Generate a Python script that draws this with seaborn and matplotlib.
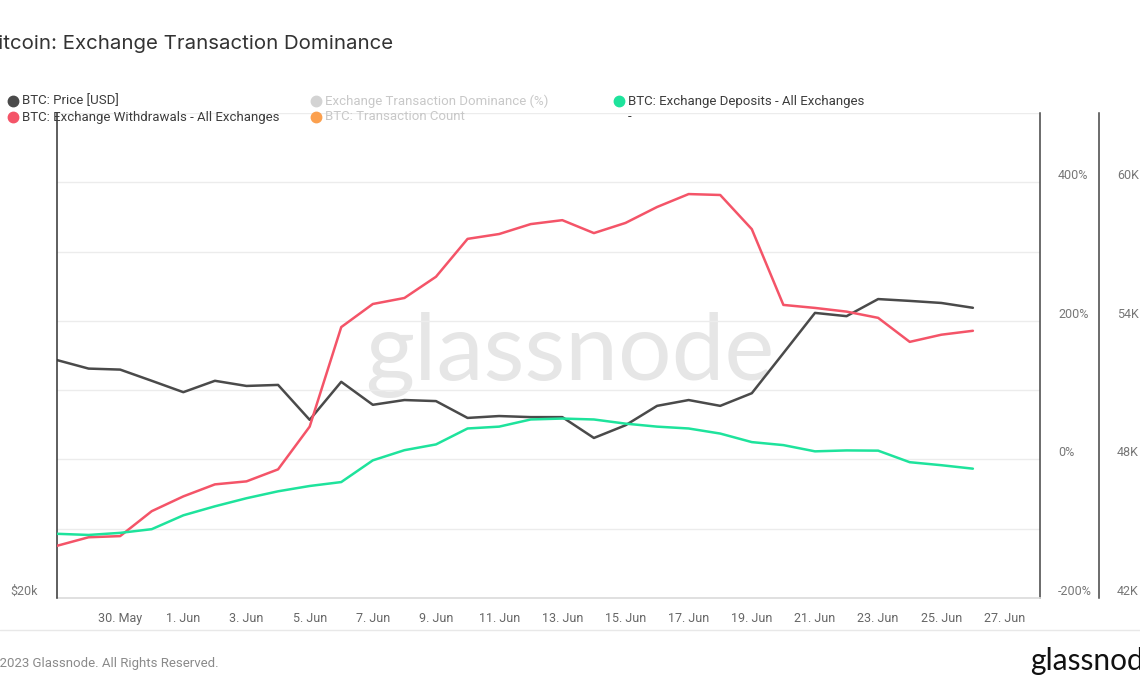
import numpy as np
import pandas as pd
import matplotlib
matplotlib.use("Agg")
import matplotlib.pyplot as plt
import matplotlib.dates as mdates
from matplotlib.ticker import FixedLocator, FuncFormatter, NullLocator
from matplotlib.lines import Line2D
import seaborn as sns

# ---------------- data ----------------
dates = pd.date_range("2023-05-28", "2023-06-26", freq="D")
price_usd = [28100, 27760, 27720, 27280, 26840, 27280, 27080, 27120, 25800, 27240,
             26360, 26540, 26500, 25870, 25940, 25900, 25900, 25140, 25600, 26320,
             26540, 26320, 26800, 28380, 30060, 29920, 30660, 30580, 30490, 30280]
withdrawals = [44260, 44630, 44680, 45760, 46400, 46920, 47050, 47570, 49420, 53730,
               54730, 54990, 55910, 57550, 57760, 58190, 58360, 57800, 58240, 58930,
               59490, 59450, 57970, 54690, 54560, 54400, 54130, 53090, 53400, 53570]
deposits = [44780, 44730, 44820, 44980, 45580, 45970, 46320, 46620, 46850, 47020,
            47960, 48400, 48650, 49340, 49420, 49730, 49770, 49730, 49550, 49420,
            49340, 49120, 48750, 48620, 48350, 48390, 48380, 47880, 47750, 47600]

title = "Bitcoin: Exchange Transaction Dominance"
legend_items = [
    ("BTC: Price [USD]", "#4a4a4a", True),
    ("Exchange Transaction Dominance (%)", "#d3d3d3", False),
    ("BTC: Exchange Deposits - All Exchanges", "#1ee39c", True),
    ("BTC: Exchange Withdrawals - All Exchanges", "#f45468", True),
    ("BTC: Transaction Count", "#fba04e", False),
]
pct_ticks = [-200, -100, 0, 100, 200, 300, 400, 500]
pct_labeled = [-200, 0, 200, 400]
k_ticks = [42000, 48000, 54000, 60000]

df = pd.DataFrame({"date": dates, "price": price_usd,
                   "withdrawals": withdrawals, "deposits": deposits})

# ---------------- style ----------------
sns.set_theme(style="white")
plt.rcParams["font.family"] = ["Roboto", "DejaVu Sans"]

W, H = 1140, 694
fig = plt.figure(figsize=(W / 100, H / 100), dpi=100)
fig.patch.set_facecolor("white")

left, right, top, bottom = 57, 1040, 113, 598
ax = fig.add_axes([left / W, 1 - bottom / H, (right - left) / W, (bottom - top) / H])

# percent axis (base, carries grid)
ax.set_ylim(-200, 500)
ax.yaxis.set_major_locator(FixedLocator(pct_ticks))
ax.yaxis.set_major_formatter(FuncFormatter(lambda v, p: f"{int(v)}%" if int(v) in pct_labeled else ""))
ax.grid(axis="y", color="#ececec", linewidth=1)
ax.grid(axis="x", visible=False)

# x axis
ax.set_xlim(pd.Timestamp("2023-05-28"), pd.Timestamp("2023-06-28 03:00"))
ax.xaxis.set_major_locator(mdates.DayLocator(bymonthday=[30, 1, 3, 5, 7, 9, 11, 13, 15, 17, 19, 21, 23, 25, 27]))
ax.xaxis.set_major_formatter(mdates.DateFormatter("%-d. %b"))
ax.tick_params(axis="x", length=5, width=0.8, color="#dddddd", labelsize=9,
               labelcolor="#666", pad=5)

# watermark
ax.text(570 / W, 1 - 355 / H, "glassnode", transform=fig.transFigure, ha="center",
        va="center", fontsize=68, color="#e6e6e6", family=["Lato", "DejaVu Sans"], zorder=0)

# price axis (left, log)
axp = ax.twinx()
sns.lineplot(data=df, x="date", y="price", ax=axp, color="#4a4a4a", linewidth=1.8)
axp.set_yscale("log")
axp.set_ylim(20000, 40000)
axp.yaxis.tick_left()
axp.yaxis.set_label_position("left")
axp.yaxis.set_major_locator(FixedLocator([20000]))
axp.yaxis.set_minor_locator(NullLocator())
axp.yaxis.set_major_formatter(FuncFormatter(lambda v, p: f"${int(v/1000)}k"))
axp.tick_params(axis="y", length=0, pad=14, labelsize=9, labelcolor="#777")
for s in ["top", "right", "bottom"]:
    axp.spines[s].set_visible(False)
axp.spines["left"].set_visible(True)
axp.spines["left"].set_color("#333")
axp.spines["left"].set_linewidth(1.1)
axp.set_ylabel("")
axp.set_xlabel("")

# count axis (outer right)
axk = ax.twinx()
sns.lineplot(data=df, x="date", y="withdrawals", ax=axk, color="#f45468", linewidth=1.8)
sns.lineplot(data=df, x="date", y="deposits", ax=axk, color="#1ee39c", linewidth=1.8)
axk.set_ylim(42000, 63000)
axk.spines["right"].set_position(("outward", 59 * 72 / 100))
axk.yaxis.set_major_locator(FixedLocator(k_ticks))
axk.yaxis.set_major_formatter(FuncFormatter(lambda v, p: f"{int(v/1000)}K"))
axk.tick_params(axis="y", length=0, pad=13, labelsize=9, labelcolor="#777")
for s in ["top", "left", "bottom"]:
    axk.spines[s].set_visible(False)
axk.spines["right"].set_color("#444")
axk.spines["right"].set_linewidth(1.1)
axk.set_ylabel("")
axk.set_xlabel("")
axk.set_xlim(ax.get_xlim())

# percent axis labels on the right (after twinx, which resets them)
ax.yaxis.tick_right()
ax.yaxis.set_label_position("right")
ax.tick_params(axis="y", length=0, pad=13, labelsize=9, labelcolor="#777")
ax.set_xlabel("")
for s in ["top", "left"]:
    ax.spines[s].set_visible(False)
ax.spines["bottom"].set_color("#dcdcdc")
ax.spines["right"].set_visible(True)
ax.spines["right"].set_color("#444")
ax.spines["right"].set_linewidth(1.1)

for a in (ax, axp, axk):
    for lbl in a.get_yticklabels():
        lbl.set_va("bottom")

# title
fig.text(-15 / W, 1 - 44 / H, title, fontsize=14.7, color="#333",
         family=["Inter", "DejaVu Sans"], va="center", ha="left")

# legend (manual)
cols = [13, 316, 619]
rows = [101, 117]
positions = [(0, 0), (1, 0), (2, 0), (0, 1), (1, 1)]
for (label, color, active), (c, r) in zip(legend_items, positions):
    x, y = cols[c], rows[r]
    fig.add_artist(Line2D([x / W], [1 - y / H], marker="o", markersize=7.5,
                          color=color, linestyle="none", transform=fig.transFigure))
    fig.text((x + 9) / W, 1 - y / H, label, fontsize=9.5,
             color="#3c3c3c" if active else "#c8c8c8", va="center", ha="left")
fig.text(628 / W, 1 - 117 / H, "-", fontsize=9.5, color="#3c3c3c", va="center", ha="left")

# footer
fig.add_artist(Line2D([0, 1], [1 - 630 / H, 1 - 630 / H], color="#e8e8e8",
                      linewidth=1, transform=fig.transFigure))
fig.text(-14 / W, 1 - 663 / H, "© 2023 Glassnode. All Rights Reserved.", fontsize=9.5,
         color="#8a8a8a", va="center", ha="left")
fig.text(1030 / W, 1 - 661 / H, "glassnode", fontsize=21.5, color="#111",
         family=["Lato", "DejaVu Sans"], va="center", ha="left")

fig.savefig("out.png", dpi=100, facecolor="white")
